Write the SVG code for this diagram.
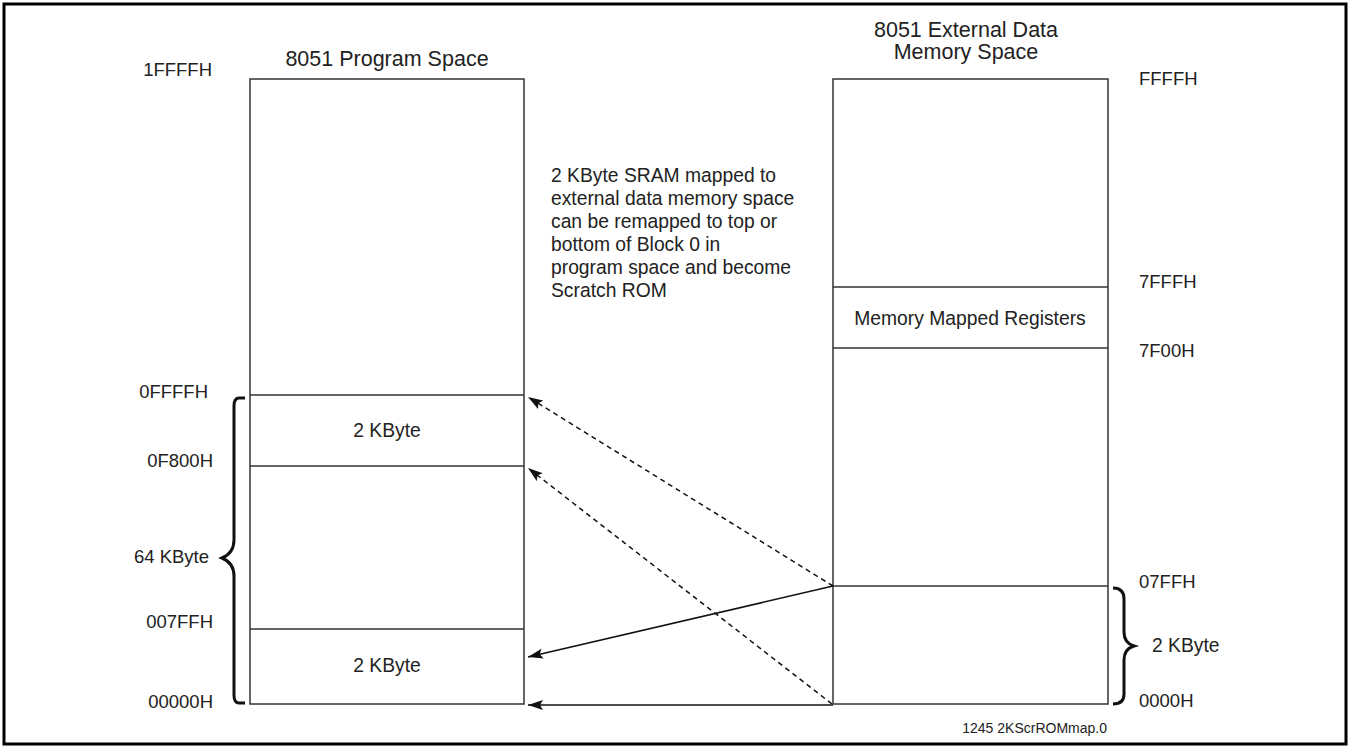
<svg xmlns="http://www.w3.org/2000/svg" width="1350" height="748" viewBox="0 0 1350 748">
<style>
text{font-family:"Liberation Sans",Arial,sans-serif;font-size:19.3px;fill:#222}
.hex{font-size:18.5px}
.title{font-size:21.5px}
.box{fill:none;stroke:#333;stroke-width:1.5}
.div{stroke:#333;stroke-width:1.3}
.brace{fill:none;stroke:#111;stroke-width:3}
.dash{stroke:#111;stroke-width:1.5;stroke-dasharray:5,4;fill:none}
.solid{stroke:#111;stroke-width:1.6;fill:none}
.mid{text-anchor:middle}
.end{text-anchor:end}
.small{font-size:14px}
</style>
<defs>
<marker id="ah" viewBox="0 0 15 10" refX="15" refY="5" markerWidth="15" markerHeight="10" markerUnits="userSpaceOnUse" orient="auto">
<path d="M0,0 L15,5 L0,10 L3,5 Z" fill="#111"/>
</marker>
</defs>
<rect x="4" y="4" width="1342" height="740" fill="#fff" stroke="#000" stroke-width="3"/>
<g id="program-space">
<rect class="box" x="250" y="79" width="274" height="625"/>
<line class="div" x1="250" y1="395" x2="524" y2="395"/>
<line class="div" x1="250" y1="466" x2="524" y2="466"/>
<line class="div" x1="250" y1="629" x2="524" y2="629"/>
<text class="mid title" x="387" y="66">8051 Program Space</text>
<text class="mid" x="387" y="437">2 KByte</text>
<text class="mid" x="387" y="672">2 KByte</text>
<text class="hex end" x="212" y="76">1FFFFH</text>
<text class="hex end" x="208" y="398">0FFFFH</text>
<text class="hex end" x="213" y="467">0F800H</text>
<text class="hex end" x="209" y="563">64 KByte</text>
<text class="hex end" x="213" y="628">007FFH</text>
<text class="hex end" x="213" y="708">00000H</text>
<path class="brace" d="M245,398 L239,398 Q234,398 234,406 L234,540 Q234,553 222,558 Q234,563 234,576 L234,695 Q234,703 239,703 L245,703"/>
</g>
<g id="data-space">
<rect class="box" x="833" y="79" width="275" height="625"/>
<line class="div" x1="833" y1="287" x2="1108" y2="287"/>
<line class="div" x1="833" y1="348" x2="1108" y2="348"/>
<line class="div" x1="833" y1="586" x2="1108" y2="586"/>
<text class="mid title" x="966" y="37">8051 External Data</text>
<text class="mid title" x="966" y="59">Memory Space</text>
<text class="mid" x="970" y="325">Memory Mapped Registers</text>
<text class="hex" x="1139" y="85">FFFFH</text>
<text class="hex" x="1139" y="288">7FFFH</text>
<text class="hex" x="1139" y="357">7F00H</text>
<text class="hex" x="1139" y="588">07FFH</text>
<text x="1152" y="652">2 KByte</text>
<text class="hex" x="1139" y="707">0000H</text>
<path class="brace" d="M1113,588 Q1124,588 1124,599 L1124,632 Q1124,643 1134,646 Q1124,649 1124,660 L1124,694 Q1124,704 1113,704"/>
</g>
<g id="note">
<text x="551" y="182">2 KByte SRAM mapped to</text>
<text x="551" y="205">external data memory space</text>
<text x="551" y="228">can be remapped to top or</text>
<text x="551" y="251">bottom of Block 0 in</text>
<text x="551" y="274">program space and become</text>
<text x="551" y="297">Scratch ROM</text>
</g>
<g id="connectors">
<line class="dash" x1="833" y1="586" x2="528" y2="397" marker-end="url(#ah)"/>
<line class="dash" x1="832" y1="704" x2="528" y2="468" marker-end="url(#ah)"/>
<line class="solid" x1="833" y1="586" x2="528" y2="657" marker-end="url(#ah)"/>
<line class="solid" x1="833" y1="705" x2="528" y2="705" marker-end="url(#ah)"/>
</g>
<text class="small end" x="1107" y="733">1245 2KScrROMmap.0</text>
</svg>
